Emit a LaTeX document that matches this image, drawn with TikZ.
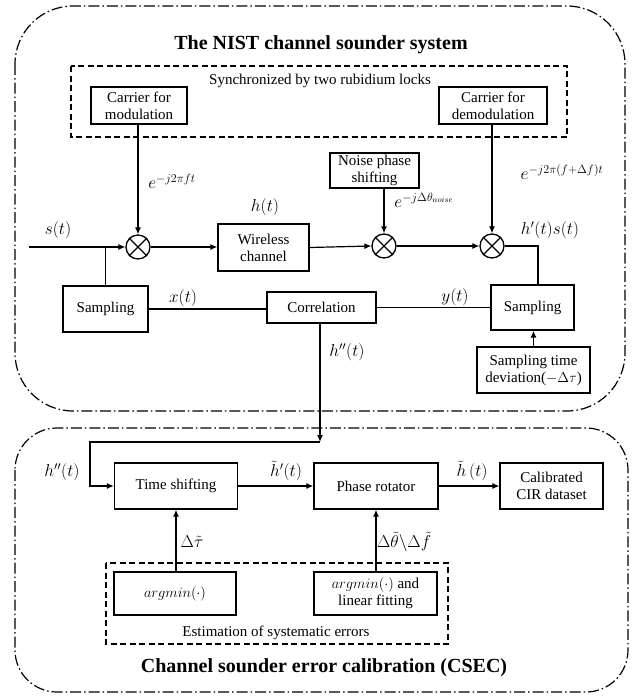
\documentclass[tikz,border=0pt]{standalone}
\usepackage{fontspec}
\setmainfont{Liberation Serif}
\usetikzlibrary{arrows.meta}
\begin{document}
\begin{tikzpicture}[x=1pt,y=-1pt,
  dd/.style={line width=1.2pt,dash pattern=on 11pt off 3pt on 1.5pt off 3pt},
  dsh/.style={line width=1.2pt,dash pattern=on 6pt off 3.5pt},
  box/.style={draw,line width=1.3pt,inner sep=1pt,align=center,font=\rmfamily\fontsize{15}{17}\selectfont},
  mix/.style={draw,circle,line width=1.3pt,minimum size=24pt,inner sep=0pt},
  arr/.style={line width=1.2pt,-{Latex[length=7pt,width=6pt]}},
  ln/.style={line width=1.2pt},
  ttl/.style={font=\rmfamily\fontsize{20}{22}\selectfont\bfseries},
  lab/.style={font=\fontsize{18}{20}\selectfont,inner sep=0pt},
  slab/.style={font=\fontsize{17}{19}\selectfont,inner sep=0pt},
  txt/.style={font=\rmfamily\fontsize{15}{17}\selectfont,inner sep=0pt}]
\useasboundingbox (0,0) rectangle (634,696);

% outer frames
\draw[dd,rounded corners=58pt] (15,6) rectangle (625,411);
\draw[dd,rounded corners=42pt] (15,428) rectangle (628,692);

\node[ttl] (t1) at (321,45) {The NIST channel sounder system};
\node[ttl] (t2) at (324,668) {Channel sounder error calibration (CSEC)};

% sync dashed box
\draw[dsh] (71,66) rectangle (567,137);
\node[txt] (sync) at (320,81) {Synchronized by two rubidium locks};

% boxes
\node[box,minimum width=96pt,minimum height=37pt] (cmod) at (139,105.5) {Carrier for\\modulation};
\node[box,minimum width=108pt,minimum height=37pt] (cdem) at (493,105.5) {Carrier for\\demodulation};
\node[box,minimum width=89pt,minimum height=35pt] (noise) at (374.5,170.5) {Noise phase\\shifting};
\node[box,minimum width=91pt,minimum height=47pt] (wc) at (263.5,247.5) {Wireless\\channel};
\node[mix] (m1) at (138,247) {};
\node[mix] (m2) at (384,246) {};
\node[mix] (m3) at (492,246) {};
\foreach \m in {m1,m2,m3}{
  \draw[line width=1.2pt] (\m.45) -- (\m.225) (\m.135) -- (\m.315);
}
\node[box,minimum width=85pt,minimum height=46pt] (sampL) at (105.5,309) {Sampling};
\node[box,minimum width=109pt,minimum height=31pt] (corr) at (321.5,307.5) {Correlation};
\node[box,minimum width=83pt,minimum height=45pt] (sampR) at (532.5,307.5) {Sampling};
\node[box,minimum width=113pt,minimum height=46pt] (std) at (533.5,370) {Sampling time\\deviation($-\Delta\tau$)};

\node[box,minimum width=123pt,minimum height=46pt] (ts) at (176,486) {Time shifting};
\node[box,minimum width=124pt,minimum height=46pt] (pr) at (376,486) {Phase rotator};
\node[box,minimum width=103pt,minimum height=46pt] (cir) at (551.5,486) {Calibrated\\CIR dataset};

\draw[dsh] (106,563) rectangle (448,644);
\node[box,minimum width=122pt,minimum height=43pt] (am1) at (175,593.5) {$argmin(\cdot)$};
\node[box,minimum width=123pt,minimum height=43pt] (am2) at (375.5,593.5) {$argmin(\cdot)$ and\\linear fitting};
\node[txt] (est) at (276,633) {Estimation of systematic errors};

% connectors
\coordinate (in) at (29,247);
\draw[arr] (in) -- (m1.west);
\draw[ln] (sampL.north) -- (sampL.north |- m1.west);
\draw[arr] (m1.north |- cmod.south) -- (m1.north);
\draw[arr] (m1.east) -- (m1.east -| wc.west);
\draw[arr] (wc.east) -- (m2.west);
\draw[arr] (m2.east) -- (m3.west);
\draw[arr] (m2.north |- noise.south) -- (m2.north);
\draw[arr] (m3.north |- cdem.south) -- (m3.north);
\draw[ln] (m3.east) -| ([xshift=5.5pt]sampR.north);
\draw[ln] (sampL.east) -- (sampL.east -| corr.west);
\draw[ln] (corr.east) -- (corr.east -| sampR.west);
\draw[arr] (std.north) -- (std.north |- sampR.south);
\coordinate (j) at (320,442);
\coordinate (jl) at (90,442);
\draw[arr] (corr.south -| j) -- (j);
\draw[arr] (j) -- (jl) |- (ts.west);
\draw[arr] (ts.east) -- (pr.west);
\draw[arr] (pr.east) -- (cir.west);
\draw[arr] (ts.south |- am1.north) -- (ts.south);
\draw[arr] (pr.south |- am2.north) -- (pr.south);

% labels
\node[lab] (ls) at (58,230) {$s(t)$};
\node[lab] (lh) at (265,207) {$h(t)$};
\node[lab] (lhs) at (550,230) {$h'(t)s(t)$};
\node[lab] (lx) at (183,298) {$x(t)$};
\node[lab] (ly) at (455,297) {$y(t)$};
\node[lab] (lh2) at (347,352) {$h''(t)$};
\node[lab] (lh3) at (62,472) {$h''(t)$};
\node[lab] (lh4) at (286,471) {$\tilde{h}'(t)$};
\node[lab] (lh5) at (472,471) {$\tilde{h}\,(t)$};
\node[slab] (ldt) at (192,542) {$\Delta\tilde{\tau}$};
\node[slab] (ldf) at (404,542) {$\Delta\tilde{\theta}\backslash\Delta\tilde{f}$};
\node[slab] (le1) at (172,181) {$e^{-j2\pi ft}$};
\node[slab] (le2) at (424,200) {$e^{-j\Delta\theta_{noise}}$};
\node[slab] (le3) at (562,172) {$e^{-j2\pi(f+\Delta f)t}$};
\end{tikzpicture}
\end{document}
